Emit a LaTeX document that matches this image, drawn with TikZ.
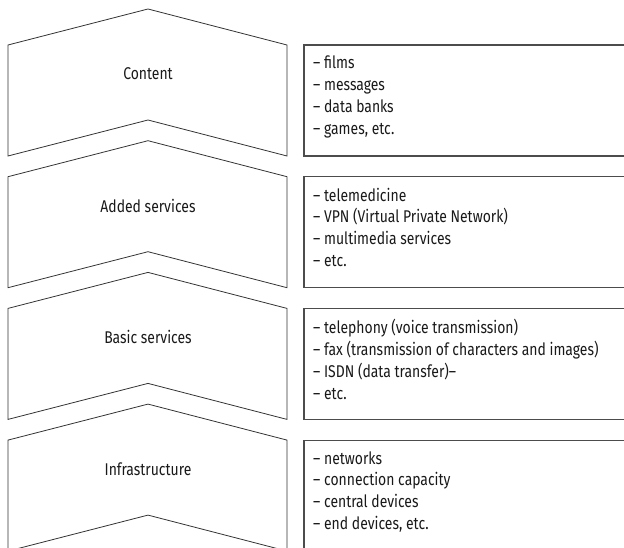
\documentclass[tikz,border=0pt]{standalone}
\usepackage{fontspec}
\setmainfont[FakeStretch=0.82]{Fira Sans}
\begin{document}
\begin{tikzpicture}
  [x=1pt,y=-1pt,
   layer/.style={draw=black!80,line width=0.8pt},
   listbox/.style={draw=black!70,line width=1.1pt},
   lbl/.style={font=\fontsize{17}{20}\selectfont,text=black!90},
   items/.style={anchor=north west,align=left,inner sep=0pt,font=\fontsize{17}{21.8}\selectfont,text=black!90}]
  \useasboundingbox (0,0) rectangle (624,548);
  \clip (0,0) rectangle (624,548);
  % layers with their boxes
  \foreach \i/\name/\lab in {0/cont/Content,1/added/Added services,2/basic/Basic services,3/infra/Infrastructure}
  {
    \pgfmathsetmacro{\ytop}{45+131.7*\i}
    \draw[layer] (8,\ytop) -- (148,\ytop-36) -- (287,\ytop) -- (287,\ytop+111) -- (148,\ytop+75) -- (8,\ytop+111) -- cycle;
    \node[lbl,name=\name] at (148,\ytop+29) {\lab};
    \draw[listbox] (304,\ytop) rectangle (640,\ytop+111);
  }
  \node[items,name=contlist] at (313,56) {– films\\– messages\\– data banks\\– games, etc.};
  \node[items,name=addedlist] at (313,187.7) {– telemedicine\\– VPN (Virtual Private Network)\\– multimedia services\\– etc.};
  \node[items,name=basiclist] at (313,319.4) {– telephony (voice transmission)\\– fax (transmission of characters and images)\\– ISDN (data transfer)–\\– etc.};
  \node[items,name=infralist] at (313,451.1) {– networks\\– connection capacity\\– central devices\\– end devices, etc.};
\end{tikzpicture}
\end{document}
